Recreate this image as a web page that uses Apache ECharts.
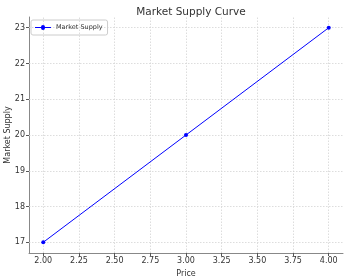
<!DOCTYPE html>
<html><head><meta charset="utf-8">
<script src="https://cdn.jsdelivr.net/npm/echarts@6/dist/echarts.min.js"></script>
<style>html,body{margin:0;padding:0;background:#fff}#c{width:351px;height:277px}</style>
</head><body><div id="c"></div>
<script>
const prices = [2.0, 3.0, 4.0];
const supply = [17, 20, 23];
const xTicks = [2.0, 2.25, 2.5, 2.75, 3.0, 3.25, 3.5, 3.75, 4.0];
const yTicks = [17, 18, 19, 20, 21, 22, 23];

const chart = echarts.init(document.getElementById('c'), null, {renderer: 'canvas'});
const font = 'DejaVu Sans';
const gridStyle = {color: '#d4d4d4', type: [1.5, 1.5], width: 0.8};
chart.setOption({
  animation: false,
  title: {text: 'Market Supply Curve', left: 186, top: 2, textAlign: 'center',
    textStyle: {fontFamily: font, fontSize: 10.5, fontWeight: 'normal', color: '#333'}},
  legend: {left: 31, top: 20, orient: 'vertical', itemWidth: 16, itemHeight: 6, itemGap: 2,
    padding: [4, 5, 4, 4], borderColor: '#ccc', borderWidth: 1, borderRadius: 2,
    textStyle: {fontFamily: font, fontSize: 6.5, color: '#333'},
    data: [{name: 'Market Supply', icon: 'path://M0,5 L6,5 A2,2 0 1,1 10,5 L16,5 L16,6 L10,6 A2,2 0 1,1 6,6 L0,6 Z'}]},
  grid: {left: 29, right: 8, top: 17, bottom: 24, containLabel: false, outerBoundsMode: 'none'},
  xAxis: {type: 'value', min: 1.9, max: 4.1, name: 'Price', nameLocation: 'middle', nameGap: 17,
    nameMoveOverlap: false,
    nameTextStyle: {fontFamily: font, fontSize: 8, color: '#333'},
    axisLine: {show: true, onZero: false, lineStyle: {color: '#888', width: 1}},
    axisTick: {show: true, length: 3, customValues: xTicks, lineStyle: {color: '#555'}},
    axisLabel: {customValues: xTicks, fontFamily: font, fontSize: 8, color: '#333', margin: 4,
      formatter: v => v.toFixed(2)},
    splitLine: {show: false}},
  yAxis: {type: 'value', min: 16.7, max: 23.3, name: 'Market Supply', nameLocation: 'middle', nameGap: 17,
    nameMoveOverlap: false,
    nameTextStyle: {fontFamily: font, fontSize: 8, color: '#333'},
    axisLine: {show: true, onZero: false, lineStyle: {color: '#888', width: 1}},
    axisTick: {show: true, length: 3, customValues: yTicks, lineStyle: {color: '#555'}},
    axisLabel: {customValues: yTicks, fontFamily: font, fontSize: 8, color: '#333', margin: 4,
      formatter: v => String(Math.round(v))},
    splitLine: {show: false}},
  series: [{name: 'Market Supply', type: 'line', data: prices.map((p, i) => [p, supply[i]]),
    color: '#0000ff', lineStyle: {width: 1, color: '#0000ff'}, symbol: 'circle', symbolSize: 4,
    itemStyle: {color: '#0000ff'}, z: 5,
    markLine: {silent: true, symbol: ['none', 'none'], label: {show: false}, animation: false,
      lineStyle: gridStyle, z: 1,
      data: xTicks.map(v => ({xAxis: v})).concat(yTicks.map(v => ({yAxis: v})))}}]
});
</script></body></html>
